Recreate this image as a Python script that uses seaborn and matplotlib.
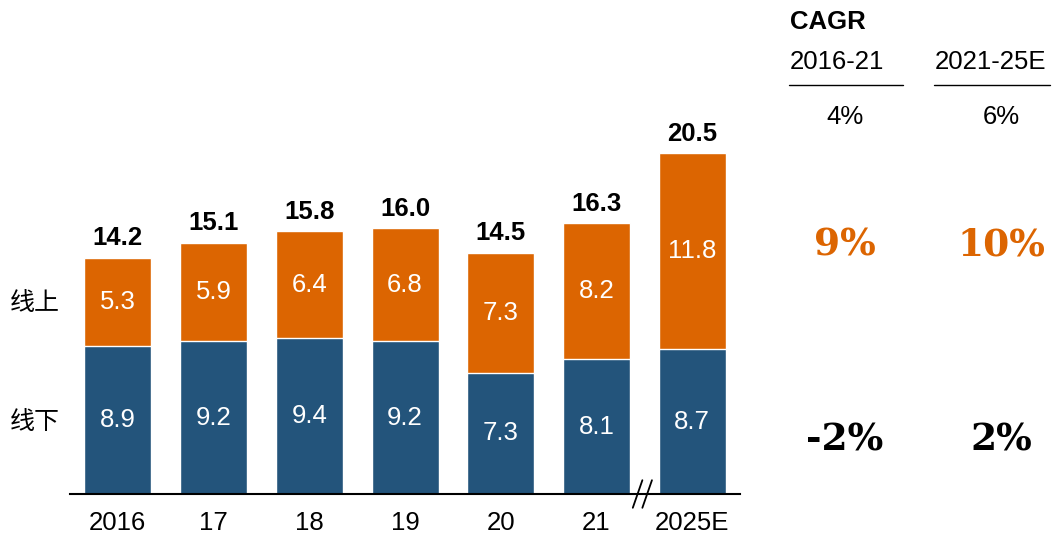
import matplotlib
matplotlib.use("Agg")
import matplotlib.pyplot as plt
import matplotlib.transforms as mtransforms
import pandas as pd
import seaborn as sns

# Values
years = ["2016", "17", "18", "19", "20", "21", "2025E"]
offline = [8.9, 9.2, 9.4, 9.2, 7.3, 8.1, 8.7]
online = [5.3, 5.9, 6.4, 6.8, 7.3, 8.2, 11.8]
total = [14.2, 15.1, 15.8, 16.0, 14.5, 16.3, 20.5]

cagr_periods = ["2016-21", "2021-25E"]
cagr_total = ["4%", "6%"]
cagr_online = ["9%", "10%"]
cagr_offline = ["-2%", "2%"]

orange = "#DC6501"
blue = "#23547B"

sns.set_theme(style="white")
plt.rcParams["font.family"] = ["Liberation Sans", "Noto Sans CJK SC"]
plt.rcParams["text.color"] = "black"

df = pd.DataFrame({"year": years, "offline": offline, "online": online, "total": total})

fig = plt.figure(figsize=(10.57, 5.33), dpi=100)
ax = fig.add_axes([70 / 1057, 1 - 494 / 533, 670 / 1057, 394 / 533])

# stacked bars: full total in orange, offline part in blue on top of it
sns.barplot(data=df, x="year", y="total", color=orange, saturation=1,
            width=0.7, edgecolor="white", linewidth=1, ax=ax)
sns.barplot(data=df, x="year", y="offline", color=blue, saturation=1,
            width=0.7, edgecolor="white", linewidth=1, ax=ax)

for i, row in df.iterrows():
    ax.text(i, row["offline"] / 2, f"{row['offline']:.1f}", ha="center", va="center",
            color="white", fontsize=18.5)
    ax.text(i, row["offline"] + (row["total"] - row["offline"]) / 2, f"{row['online']:.1f}",
            ha="center", va="center", color="white", fontsize=18.5)
    ax.text(i, row["total"] + 0.45, f"{row['total']:.1f}", ha="center", va="bottom",
            color="black", fontsize=18.5, fontweight="bold")

ax.set_xlim(-0.5, 6.5)
ax.set_ylim(0, 23.7)
ax.set_xlabel("")
ax.set_ylabel("")
ax.set_yticks([])
for s in ["top", "right", "left"]:
    ax.spines[s].set_visible(False)
ax.spines["bottom"].set_color("black")
ax.spines["bottom"].set_linewidth(1.5)
ax.tick_params(axis="x", length=0, pad=12, labelsize=18.5, colors="black")

# axis break marks between 21 and 2025E
trans = mtransforms.blended_transform_factory(ax.transData, ax.transAxes)
for dx in [-0.07, 0.03]:
    ax.plot([5.5 + dx - 0.05, 5.5 + dx + 0.05], [-0.035, 0.035], color="black",
            lw=1.3, transform=trans, clip_on=False)

# segment names on the left
fig.text(10 / 1057, 1 - 303 / 533, "线上", fontsize=18, va="center", ha="left")
fig.text(10 / 1057, 1 - 422 / 533, "线下", fontsize=18, va="center", ha="left")

# CAGR table on the right
fig.text(790 / 1057, 1 - 22 / 533, "CAGR", fontsize=18.5, fontweight="bold", va="center")
line_x = [(789, 903), (934, 1050)]
num_x = [845, 1001]
for j in range(2):
    x0, x1 = line_x[j]
    fig.text((x0 + 1) / 1057, 1 - 62 / 533, cagr_periods[j], fontsize=18.5, ha="left", va="center")
    fig.add_artist(plt.Line2D([x0 / 1057, x1 / 1057], [1 - 85 / 533, 1 - 85 / 533],
                              color="black", lw=1))
    cx = num_x[j] / 1057
    fig.text(cx, 1 - 117 / 533, cagr_total[j], fontsize=18.5, ha="center", va="center")
    fig.text(cx, 1 - 245 / 533, cagr_online[j], fontsize=27, ha="center",
             va="center", color=orange, fontweight="bold", family="DejaVu Serif")
    fig.text(cx, 1 - 440 / 533, cagr_offline[j], fontsize=27, ha="center",
             va="center", color="black", fontweight="bold", family="DejaVu Serif")

fig.savefig("out.png", dpi=100)
